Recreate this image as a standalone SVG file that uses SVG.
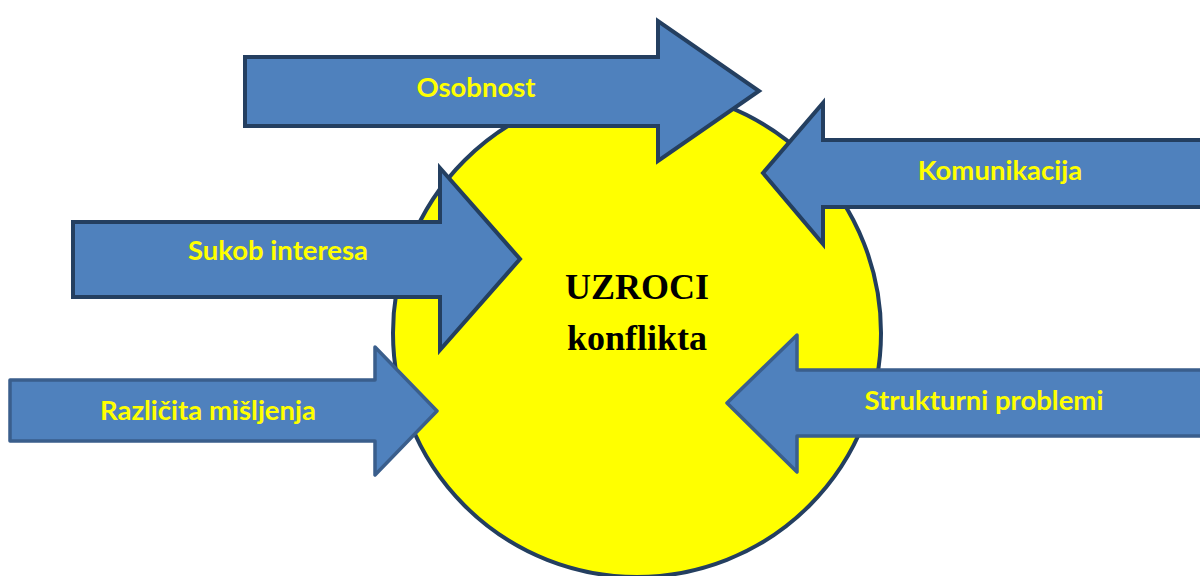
<svg xmlns="http://www.w3.org/2000/svg" width="1200" height="576" viewBox="0 0 1200 576">
  <style>
    .arrow { fill: #4F81BD; stroke: #243F60; stroke-width: 4; stroke-linejoin: miter; }
    .arrow2 { fill: #4F81BD; stroke: #3A5E8C; stroke-width: 3.5; stroke-linejoin: round; }
    .lbl { font-family: Lato, "Liberation Sans", sans-serif; font-weight: 700; font-size: 27.5px; fill: #FFFF00; text-anchor: middle; }
    .center { font-family: "Liberation Serif", serif; font-weight: 700; font-size: 36px; fill: #000000; text-anchor: middle; }
  </style>
  <rect width="1200" height="576" fill="#FFFFFF"/>
  <g id="uzroci">
    <circle cx="637" cy="333" r="244" fill="#FFFF00" stroke="#243F60" stroke-width="4"/>
    <text class="center" x="637" y="299">UZROCI</text>
    <text class="center" x="637" y="350">konflikta</text>
  </g>
  <g id="connectors">
    <g id="osobnost">
      <path class="arrow" d="M245,57 H658 V21 L759,91 L658,161 V126 H245 Z"/>
      <text class="lbl" x="476" y="97">Osobnost</text>
    </g>
    <g id="komunikacija">
      <path class="arrow" d="M1206,140 H823 V103 L763,173 L823,244 V207 H1206 Z"/>
      <text class="lbl" x="1000" y="180">Komunikacija</text>
    </g>
    <g id="sukob">
      <path class="arrow" d="M73,222 H440 V168 L520,259 L440,350 V297 H73 Z"/>
      <text class="lbl" x="278" y="260">Sukob interesa</text>
    </g>
    <g id="razlicita">
      <path class="arrow2" d="M10,380 H375 V347 L437,411 L375,475 V441 H10 Z"/>
      <text class="lbl" x="208" y="420">Različita mišljenja</text>
    </g>
    <g id="strukturni">
      <path class="arrow2" d="M1206,370 H797 V335 L727,403 L797,472 V436 H1206 Z"/>
      <text class="lbl" x="984" y="410">Strukturni problemi</text>
    </g>
  </g>
</svg>
